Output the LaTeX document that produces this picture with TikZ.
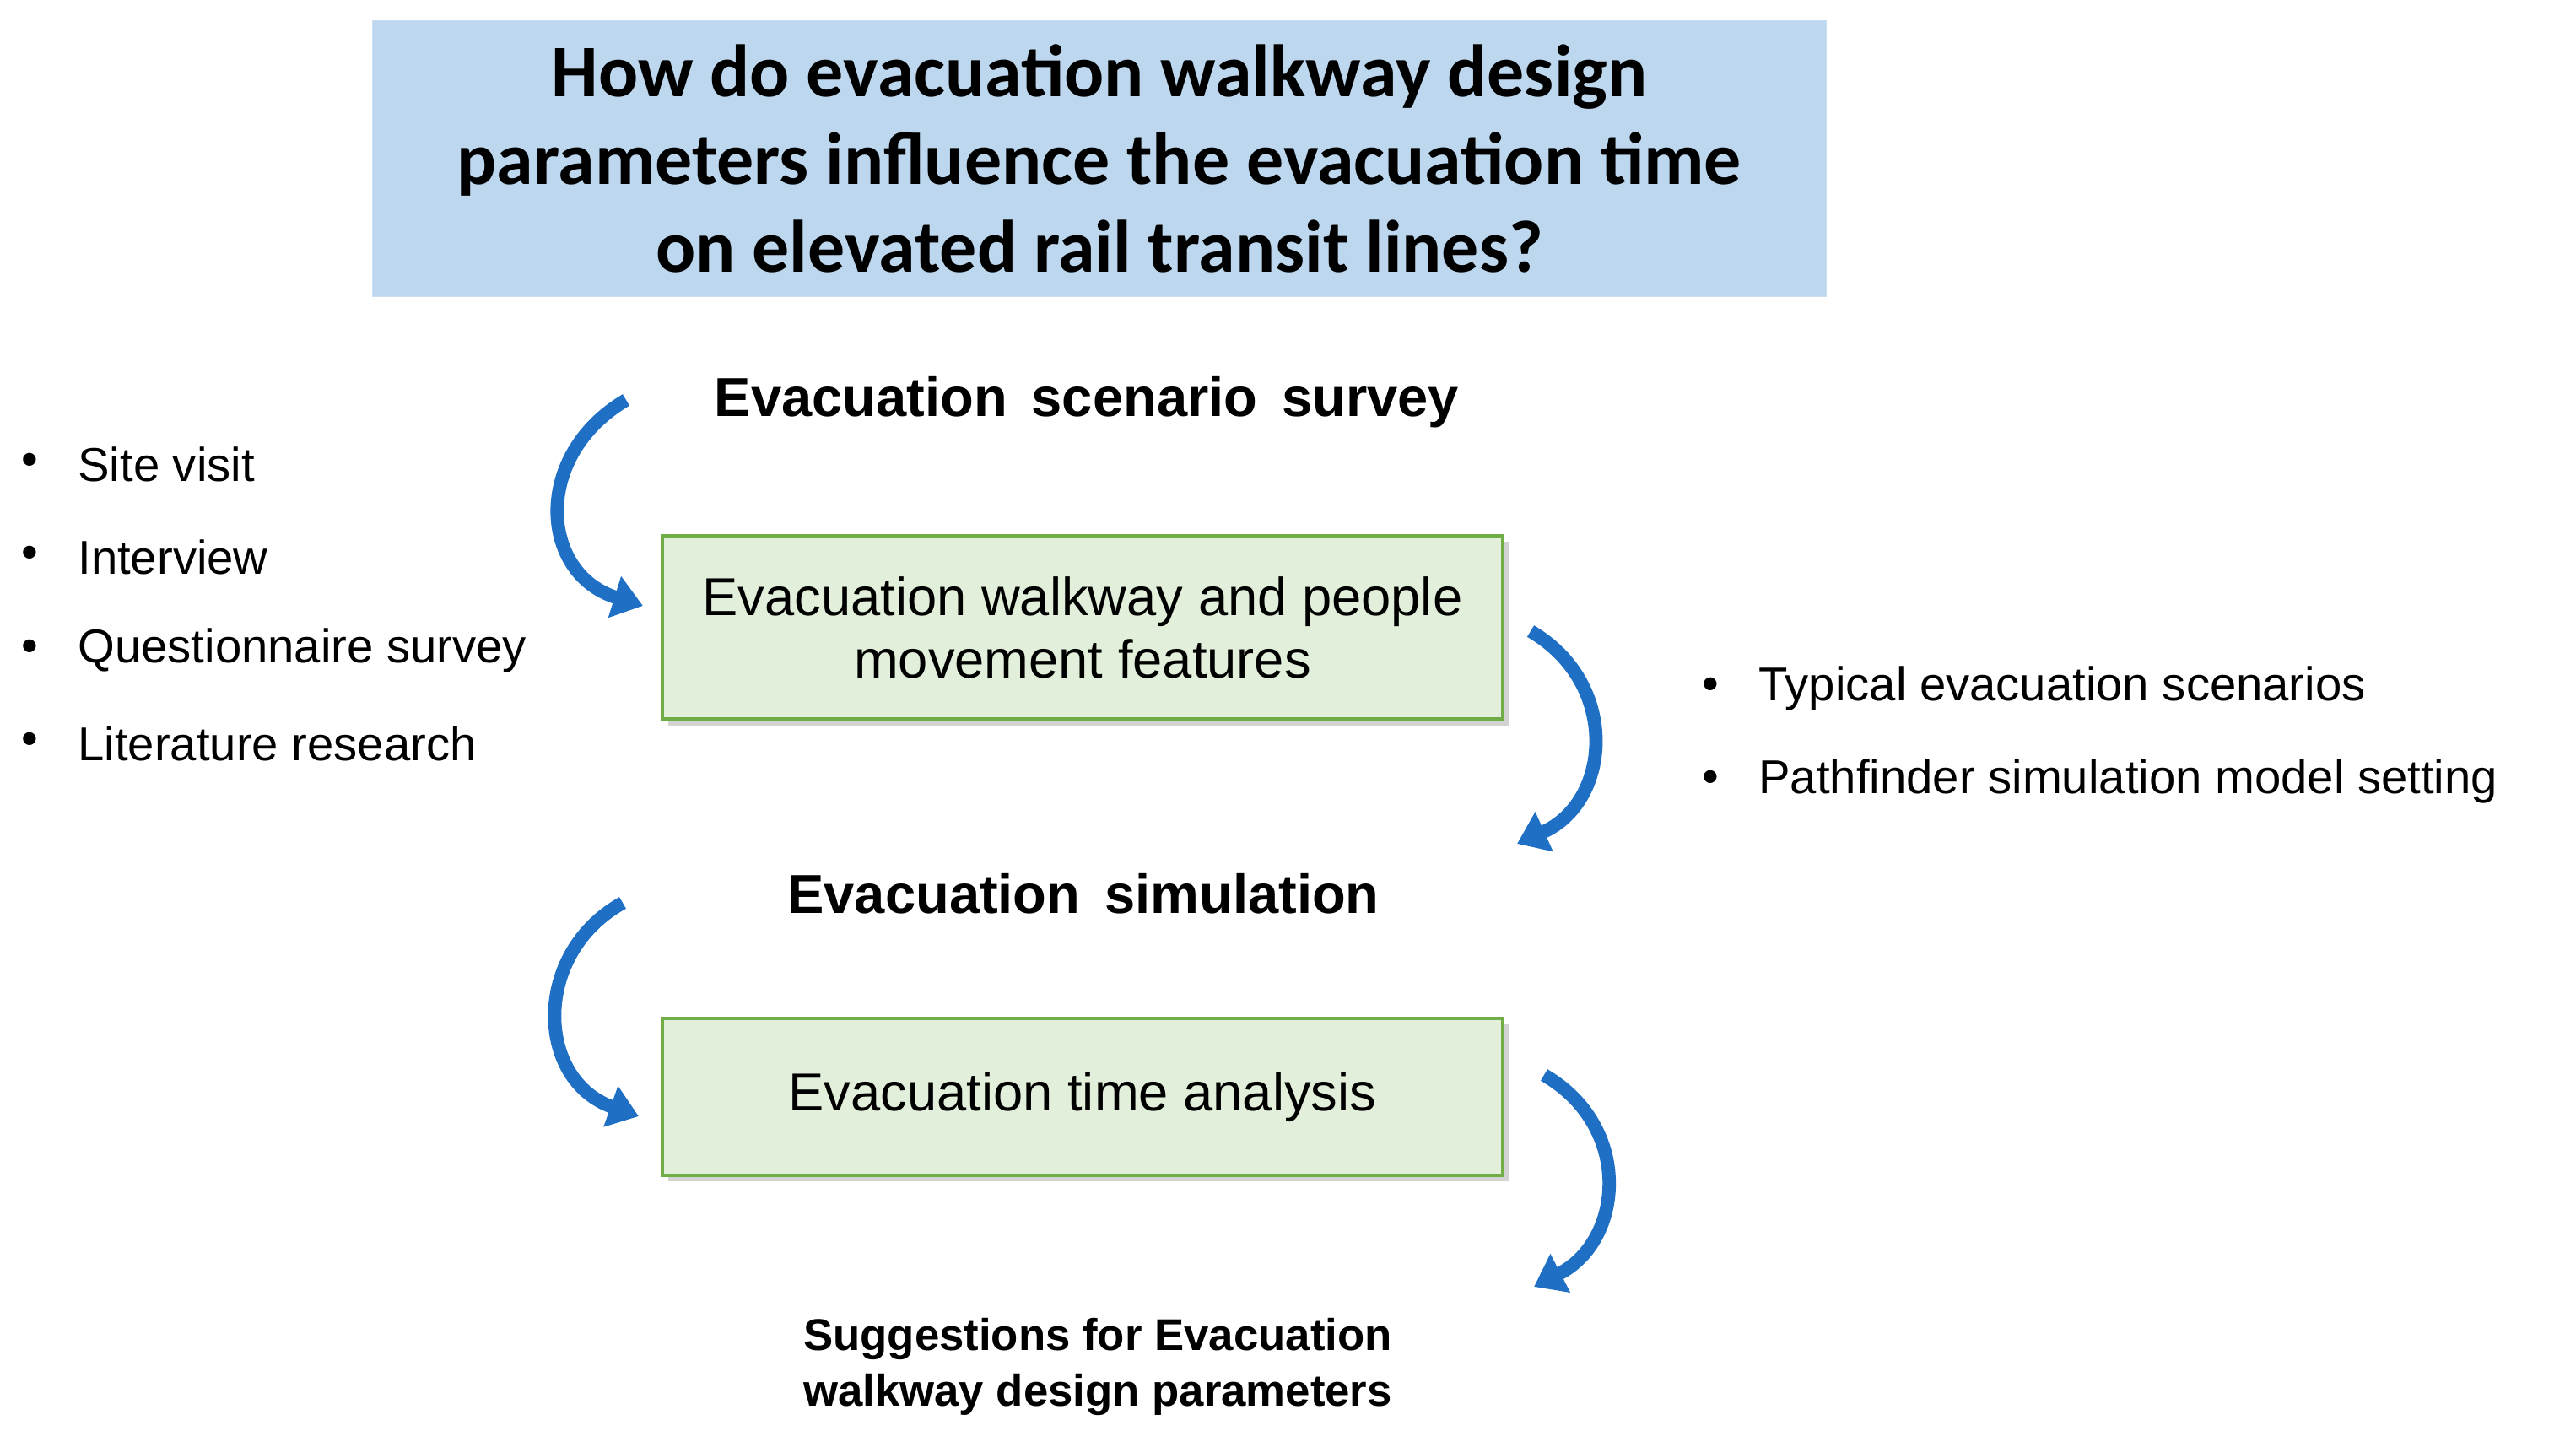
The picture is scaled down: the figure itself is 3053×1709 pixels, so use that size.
\documentclass[tikz,border=0pt]{standalone}
\usepackage{fontspec}
\setmainfont{Liberation Sans}
\newfontfamily\calib{Carlito}
\usetikzlibrary{arrows.meta,shadows}
\definecolor{tblue}{HTML}{BDD7EE}
\definecolor{gfill}{HTML}{E2EFDA}
\definecolor{gline}{HTML}{70AD47}
\definecolor{arr}{HTML}{1F6FC5}
\begin{document}
\begin{tikzpicture}[x=0.01cm,y=-0.01cm,
  box/.style={draw=gline,fill=gfill,line width=1.2pt,drop shadow={shadow xshift=2pt,shadow yshift=-2pt,opacity=0.35},minimum width=9.96cm,align=center,font=\fontsize{18}{21}\selectfont},
  head/.style={font=\fontsize{18.5}{22}\selectfont\bfseries},
  item/.style={anchor=west,font=\fontsize{16}{19}\selectfont},
  dot/.style={font=\fontsize{16}{19}\selectfont},
  flow/.style={draw=arr,line width=4.5pt,-{Triangle[width=14pt,length=10pt]}}]
\useasboundingbox (0,0) rectangle (3053,1709);
\node[fill=tblue,draw=tblue!80!white,minimum width=17.22cm,minimum height=3.27cm,align=center,
  font=\calib\fontsize{25}{29.6}\selectfont\bfseries] (q) at (1303,188)
  {How do evacuation walkway design\\parameters influence the evacuation time\\on elevated rail transit lines?};
\node[head] (h1) at (1288,477) {Evacuation\, scenario\, survey};
\node[box,minimum height=2.17cm] (b1) at (1283,744) {Evacuation walkway and people\\movement features};
\node[head] (h2) at (1284,1059) {Evacuation\, simulation};
\node[box,minimum height=1.86cm] (b2) at (1283,1300) {Evacuation time analysis};
\node[align=center,font=\fontsize{15}{19}\selectfont\bfseries] (s) at (1301,1620) {Suggestions for Evacuation\\walkway design parameters};
\foreach \t/\y [count=\i] in {Site visit/550,Interview/660,Questionnaire survey/771,Literature research/881}{
  \node[dot] (ld\i) at (35,\y) {\textbullet};
  \node[item] (l\i) at (80,\y) {\t};}
\foreach \t/\y [count=\i] in {Typical evacuation scenarios/816,Pathfinder simulation model setting/926}{
  \node[dot] (rd\i) at (2027,\y) {\textbullet};
  \node[item] (r\i) at (2072,\y) {\t};}
\coordinate (a1s) at (742,474); \coordinate (a1e) at (762,718);
\coordinate (a2s) at (1814,748); \coordinate (a2e) at (1798,1000);
\coordinate (a3s) at (738,1070); \coordinate (a3e) at (757,1323);
\coordinate (a4s) at (1830,1274); \coordinate (a4e) at (1818,1525);
\draw[flow] (a1s) .. controls (630,540) and (640,680) .. (a1e);
\draw[flow] (a2s) .. controls (1920,810) and (1910,950) .. (a2e);
\draw[flow] (a3s) .. controls (630,1130) and (635,1280) .. (a3e);
\draw[flow] (a4s) .. controls (1935,1335) and (1925,1470) .. (a4e);
\end{tikzpicture}
\end{document}
